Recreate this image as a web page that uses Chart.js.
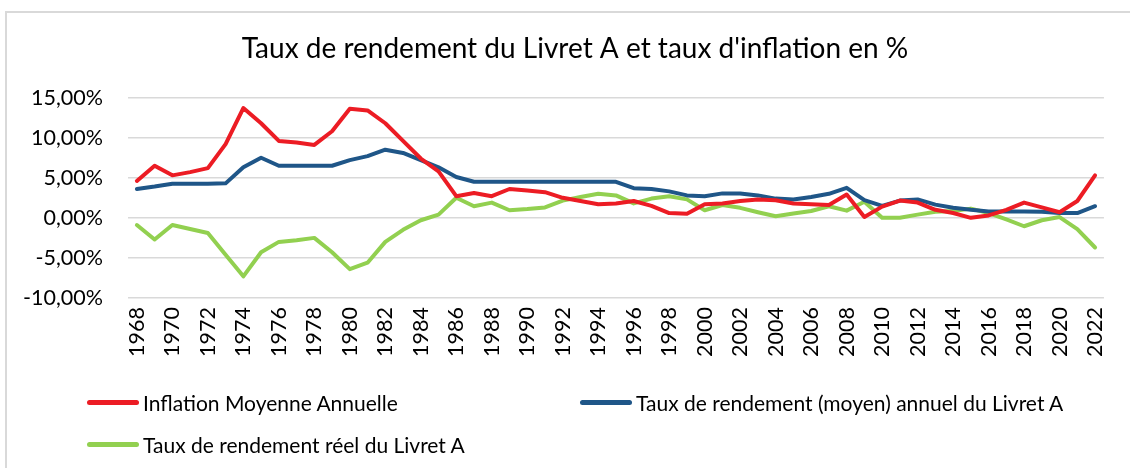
<!DOCTYPE html>
<html>
<head>
<meta charset="utf-8">
<script src="https://cdn.jsdelivr.net/npm/chart.js@4/dist/chart.umd.min.js"></script>
<style>
  body { margin: 0; background: #fff; overflow: hidden; }
  #wrap { position: relative; width: 1130px; height: 468px; }
  #frame { position: absolute; left: 5px; top: 11px; width: 1140px; height: 470px; border: 2px solid #d9d9d9; box-sizing: border-box; }
  #legend { position: absolute; left: 0; top: 0; font-family: Lato, sans-serif; font-size: 21px; color: #000; }
  .item { position: absolute; display: flex; align-items: center; white-space: nowrap; }
  .swatch { width: 52px; height: 5px; border-radius: 3px; margin-right: 4px; }
</style>
</head>
<body>
<div id="wrap">
  <div id="frame"></div>
  <canvas id="chart" width="1130" height="468"></canvas>
  <div id="legend"></div>
</div>
<script>
// years 1968 -> 2022
const years = [];
for (let y = 1968; y <= 2022; y++) years.push(String(y));

const inflation = [4.6, 6.5, 5.3, 5.7, 6.2, 9.2, 13.7, 11.8, 9.6, 9.4,
  9.1, 10.8, 13.6, 13.4, 11.8, 9.6, 7.4, 5.8, 2.7, 3.1,
  2.7, 3.6, 3.4, 3.2, 2.5, 2.1, 1.7, 1.8, 2.1, 1.5,
  0.6, 0.5, 1.7, 1.8, 2.1, 2.3, 2.2, 1.8, 1.7, 1.6,
  2.9, 0.1, 1.4, 2.15, 1.9, 1.0, 0.6, 0.0, 0.3, 1.0,
  1.9, 1.3, 0.7, 2.1, 5.3];

const livretA = [3.6, 3.9, 4.25, 4.25, 4.25, 4.3, 6.3, 7.5, 6.5, 6.5,
  6.5, 6.5, 7.2, 7.7, 8.5, 8.1, 7.2, 6.3, 5.1, 4.5,
  4.5, 4.5, 4.5, 4.5, 4.5, 4.5, 4.5, 4.5, 3.7, 3.6,
  3.3, 2.8, 2.7, 3.05, 3.05, 2.8, 2.4, 2.3, 2.6, 3.0,
  3.75, 2.2, 1.5, 2.15, 2.3, 1.65, 1.25, 1.0, 0.8, 0.8,
  0.8, 0.75, 0.6, 0.6, 1.45];

const reel = [-0.9, -2.7, -0.9, -1.4, -1.9, -4.6, -7.3, -4.3, -3.0, -2.8,
  -2.5, -4.3, -6.4, -5.6, -3.0, -1.5, -0.3, 0.4, 2.5, 1.45,
  1.9, 0.95, 1.1, 1.3, 2.15, 2.6, 3.0, 2.8, 1.8, 2.4,
  2.7, 2.3, 0.95, 1.6, 1.25, 0.7, 0.2, 0.55, 0.85, 1.45,
  0.9, 2.0, 0.0, 0.0, 0.4, 0.75, 0.85, 1.15, 0.6, -0.2,
  -1.05, -0.3, 0.1, -1.4, -3.7];

const seriesNames = [
  'Inflation Moyenne Annuelle',
  'Taux de rendement (moyen) annuel du Livret A',
  'Taux de rendement réel du Livret A'
];
const seriesColors = ['#ec1c24', '#1f5688', '#92d050'];

const fmt = v => v.toFixed(2).replace('.', ',') + '%';

const chart = new Chart(document.getElementById('chart'), {
  type: 'line',
  data: {
    labels: years,
    datasets: [inflation, livretA, reel].map((d, i) => ({
      label: seriesNames[i],
      data: d,
      borderColor: seriesColors[i],
      backgroundColor: seriesColors[i],
      borderWidth: 4,
      pointRadius: 0,
      tension: 0,
      borderJoinStyle: 'round',
      borderCapStyle: 'round'
    }))
  },
  options: {
    responsive: false,
    animation: false,
    // left padding shifts the title centre like the Excel frame does
    layout: { padding: { left: 20, right: 0, top: 0, bottom: 110 } },
    plugins: {
      legend: { display: false },
      tooltip: { enabled: false },
      title: {
        display: true,
        text: "Taux de rendement du Livret A et taux d'inflation en %",
        color: '#000',
        font: { family: 'Lato', size: 28, weight: 'normal' },
        padding: { top: 32, bottom: 32 }
      }
    },
    scales: {
      x: {
        offset: true,
        grid: { display: false, drawTicks: false },
        border: { display: false },
        afterFit: s => { s.height = 60; },
        ticks: {
          autoSkip: false,
          maxRotation: 90,
          minRotation: 90,
          padding: 9,
          color: '#000',
          font: { family: 'Lato', size: 21.5 },
          callback: (v, i) => (i % 2 === 0 ? years[i] : '')
        }
      },
      y: {
        min: -10,
        max: 15,
        grid: { color: '#d9d9d9', lineWidth: 1.5, drawTicks: false },
        border: { display: false },
        afterFit: s => { s.width = 108; },
        ticks: {
          stepSize: 5,
          padding: 25,
          color: '#000',
          font: { family: 'Lato', size: 21.5 },
          callback: v => fmt(v)
        }
      },
      // empty right axis, only keeps a margin on the right of the plot
      yRight: {
        position: 'right',
        grid: { display: false, drawTicks: false },
        border: { display: false },
        ticks: { display: false },
        afterFit: s => { s.width = 15; }
      }
    }
  }
});

// legend in Excel-like grid, built from the datasets
const slots = [[87, 402], [580, 402], [87, 444]];
const legendEl = document.getElementById('legend');
chart.data.datasets.forEach((ds, i) => {
  const it = document.createElement('div');
  it.className = 'item';
  it.style.left = slots[i][0] + 'px';
  it.style.top = (slots[i][1] - 13) + 'px';
  it.style.height = '26px';
  const sw = document.createElement('span');
  sw.className = 'swatch';
  sw.style.background = ds.borderColor;
  const tx = document.createElement('span');
  tx.textContent = ds.label;
  it.appendChild(sw);
  it.appendChild(tx);
  legendEl.appendChild(it);
});
</script>
</body>
</html>
